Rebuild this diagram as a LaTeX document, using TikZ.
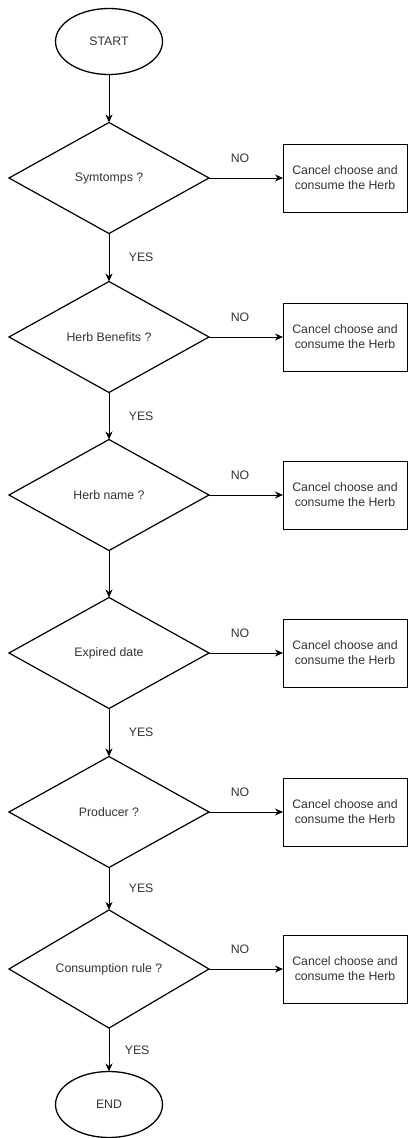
\documentclass[tikz,border=0pt]{standalone}
\usepackage{fontspec}
\setmainfont{Liberation Sans}
\usepackage{tikz,tkz-graph}
\usetikzlibrary{shapes.geometric,arrows.meta}
\definecolor{labelGray}{HTML}{333333}
\tikzstyle{labeledEnd}=[shape = ellipse, minimum width = 107pt, minimum height = 66pt, inner sep = 0pt, line width = 1.3pt, draw]
\tikzstyle{labeledTest}=[shape = diamond, minimum width = 200pt, minimum height = 111pt, inner sep = 0pt, line width = 1.2pt, draw]
\tikzstyle{labeledBox}=[shape = rectangle, minimum width = 124pt, minimum height = 68pt, inner sep = 2pt, align = center, line width = 0.9pt, draw]

\begin{document}
\begin{tikzpicture}[x = 1pt, y = 1pt, font = \fontsize{12.3}{15}\selectfont]
\tikzstyle{VertexStyle} = [text = labelGray]
\tikzstyle{EdgeStyle} = [draw, line width = 1pt, -{Stealth[length = 8pt, width = 7pt]}]
\tikzstyle{LabelStyle} = [fill = none, draw = none, text = labelGray]
\useasboundingbox (0,0) rectangle (408,-1138);
\Vertex[style = labeledEnd, x = 109, y = -41.5, L = {START}]{v0}
\Vertex[style = labeledTest, x = 109, y = -178, L = {Symtomps ?}]{v1}
\Vertex[style = labeledTest, x = 109, y = -337, L = {Herb Benefits ?}]{v2}
\Vertex[style = labeledTest, x = 109, y = -495, L = {Herb name ?}]{v3}
\Vertex[style = labeledTest, x = 109, y = -653, L = {Expired date}]{v4}
\Vertex[style = labeledTest, x = 109, y = -812, L = {Producer ?}]{v5}
\Vertex[style = labeledTest, x = 109, y = -969, L = {Consumption rule ?}]{v6}
\Vertex[style = labeledEnd, x = 109, y = -1104.5, L = {END}]{v7}
\Vertex[style = labeledBox, x = 345, y = -178, L = {Cancel choose and\\consume the Herb}]{c1}
\Vertex[style = labeledBox, x = 345, y = -337, L = {Cancel choose and\\consume the Herb}]{c2}
\Vertex[style = labeledBox, x = 345, y = -495, L = {Cancel choose and\\consume the Herb}]{c3}
\Vertex[style = labeledBox, x = 345, y = -653, L = {Cancel choose and\\consume the Herb}]{c4}
\Vertex[style = labeledBox, x = 345, y = -812, L = {Cancel choose and\\consume the Herb}]{c5}
\Vertex[style = labeledBox, x = 345, y = -969, L = {Cancel choose and\\consume the Herb}]{c6}
\Edge(v0)(v1)
\Edge[label = {YES}, labelstyle = {right = 16pt, fill = none}](v1)(v2)
\Edge[label = {YES}, labelstyle = {right = 16pt, fill = none}](v2)(v3)
\Edge(v3)(v4)
\Edge[label = {YES}, labelstyle = {right = 16pt, fill = none}](v4)(v5)
\Edge[label = {YES}, labelstyle = {right = 16pt, fill = none}](v5)(v6)
\Edge[label = {YES}, labelstyle = {right = 12pt, fill = none}](v6)(v7)
\Edge[label = {NO}, labelstyle = {above = 12pt, xshift = -6pt, fill = none}](v1)(c1)
\Edge[label = {NO}, labelstyle = {above = 12pt, xshift = -6pt, fill = none}](v2)(c2)
\Edge[label = {NO}, labelstyle = {above = 12pt, xshift = -6pt, fill = none}](v3)(c3)
\Edge[label = {NO}, labelstyle = {above = 12pt, xshift = -6pt, fill = none}](v4)(c4)
\Edge[label = {NO}, labelstyle = {above = 12pt, xshift = -6pt, fill = none}](v5)(c5)
\Edge[label = {NO}, labelstyle = {above = 12pt, xshift = -6pt, fill = none}](v6)(c6)
\end{tikzpicture}
\end{document}
